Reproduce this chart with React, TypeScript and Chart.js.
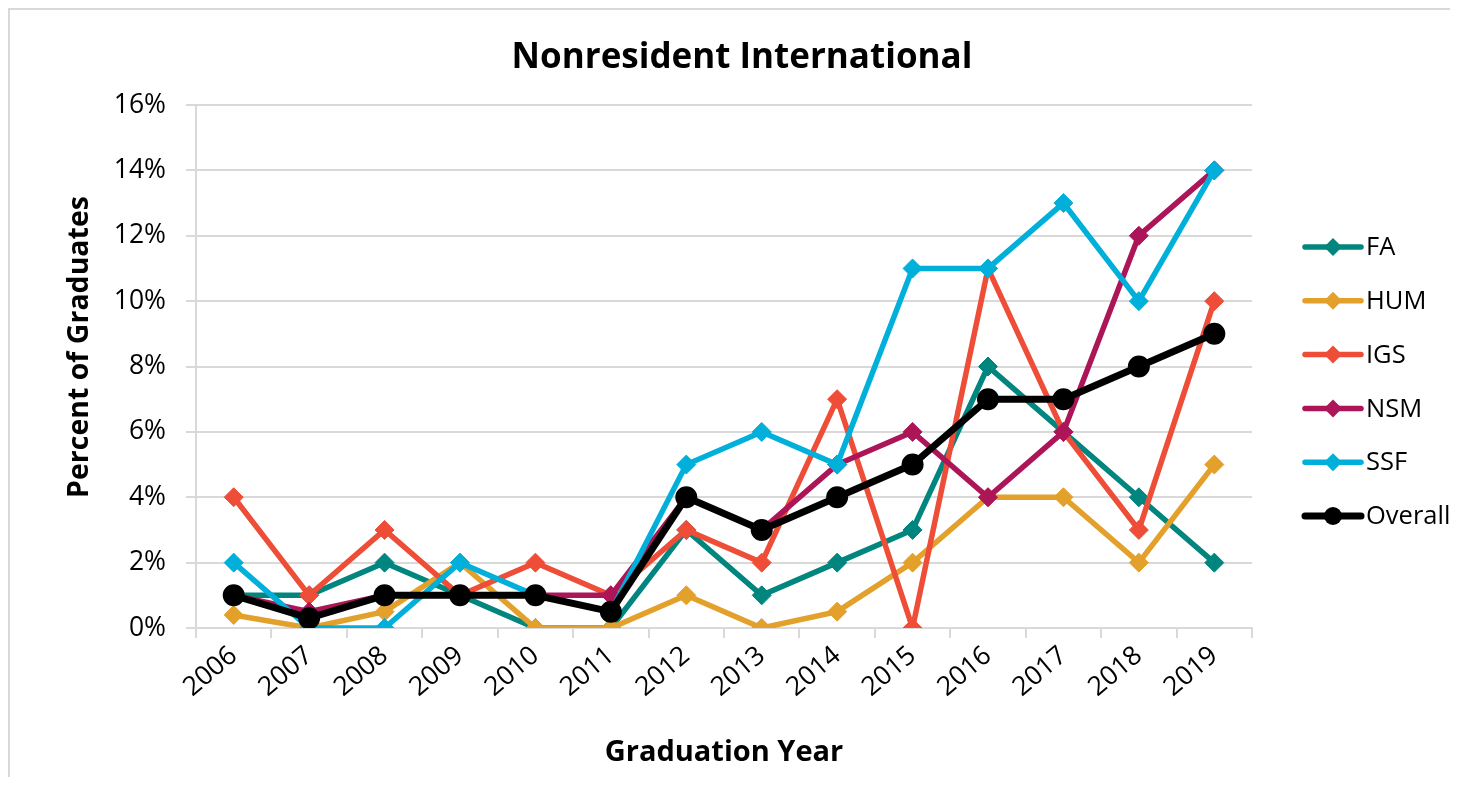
import React, { useEffect, useRef } from "react";
import { Chart, registerables } from "chart.js";

Chart.register(...registerables);

const years = ["2006", "2007", "2008", "2009", "2010", "2011", "2012", "2013", "2014", "2015", "2016", "2017", "2018", "2019"];
const faValues = [1, 1, 2, 1, 0, 0, 3, 1, 2, 3, 8, 6, 4, 2];
const humValues = [0.4, 0, 0.5, 2, 0, 0, 1, 0, 0.5, 2, 4, 4, 2, 5];
const igsValues = [4, 1, 3, 1, 2, 1, 3, 2, 7, 0, 11, 6, 3, 10];
const nsmValues = [1, 0.5, 1, 1, 1, 1, 4, 3, 5, 6, 4, 6, 12, 14];
const ssfValues = [2, 0, 0, 2, 1, 0.5, 5, 6, 5, 11, 11, 13, 10, 14];
const overallValues = [1, 0.3, 1, 1, 1, 0.5, 4, 3, 4, 5, 7, 7, 8, 9];
const seriesNames = ["FA", "HUM", "IGS", "NSM", "SSF", "Overall"];
const seriesColors = ["#00857F", "#E3A02A", "#EE4D38", "#AC1558", "#00B0DA", "#000000"];
const titleText = "Nonresident International";
const xTitle = "Graduation Year";
const yTitle = "Percent of Graduates";

const FONT = "'Open Sans', sans-serif";
const GRID = "#d9d9d9";

export default function App() {
  const ref = useRef<HTMLCanvasElement | null>(null);

  useEffect(() => {
    if (!ref.current) return;
    const allValues = [faValues, humValues, igsValues, nsmValues, ssfValues, overallValues];
    const datasets = allValues.map((vals, i) => {
      const isOverall = i === 5;
      return {
        label: seriesNames[i],
        data: vals,
        borderColor: seriesColors[i],
        backgroundColor: seriesColors[i],
        borderWidth: isOverall ? 7 : 5.5,
        pointStyle: isOverall ? "circle" : "rectRot",
        pointRadius: isOverall ? 10 : 9.5,
        pointBorderWidth: isOverall ? 2 : 1,
        pointBackgroundColor: seriesColors[i],
        pointBorderColor: seriesColors[i],
        tension: 0,
        order: 5 - i,
      };
    });

    const overlay = {
      id: "overlay",
      afterDraw(chart: any) {
        const ctx = chart.ctx;
        const ca = chart.chartArea;
        ctx.save();
        // Title
        ctx.fillStyle = "#000";
        ctx.font = `bold 35px ${FONT}`;
        ctx.textAlign = "center";
        ctx.textBaseline = "middle";
        ctx.fillText(titleText, 732, 48);
        // Y axis title
        ctx.save();
        ctx.translate(70, 337);
        ctx.rotate(-Math.PI / 2);
        ctx.font = `bold 28.5px ${FONT}`;
        ctx.textAlign = "center";
        ctx.textBaseline = "middle";
        ctx.fillText(yTitle, 0, 0);
        ctx.restore();
        // Legend
        const lx = ca.right + 53;
        const step = 53.8;
        const y0 = 237;
        chart.data.datasets.forEach((ds: any, i: number) => {
          const y = y0 + i * step;
          const isOverall = i === 5;
          ctx.strokeStyle = ds.borderColor;
          ctx.lineWidth = isOverall ? 7 : 5.5;
          ctx.lineCap = "round";
          ctx.beginPath();
          ctx.moveTo(lx, y);
          ctx.lineTo(lx + 56, y);
          ctx.stroke();
          ctx.fillStyle = ds.borderColor;
          ctx.beginPath();
          const cx = lx + 28;
          if (isOverall) {
            ctx.arc(cx, y, 9, 0, Math.PI * 2);
          } else {
            ctx.moveTo(cx, y - 9);
            ctx.lineTo(cx + 9, y);
            ctx.lineTo(cx, y + 9);
            ctx.lineTo(cx - 9, y);
            ctx.closePath();
          }
          ctx.fill();
          ctx.fillStyle = "#000";
          ctx.font = `25.5px ${FONT}`;
          ctx.textAlign = "left";
          ctx.textBaseline = "middle";
          ctx.fillText(ds.label, lx + 61, y + 1);
        });
        ctx.restore();
      },
    };

    const chart = new Chart(ref.current, {
      type: "line",
      data: { labels: years, datasets: datasets as any },
      plugins: [overlay],
      options: {
        animation: false,
        responsive: false,
        maintainAspectRatio: false,
        layout: { padding: { top: 95, right: 198, left: 0, bottom: 0 } },
        plugins: {
          legend: { display: false },
          title: { display: false },
          tooltip: { enabled: false },
        },
        scales: {
          x: {
            type: "category",
            offset: true,
            afterFit(scale: any) {
              scale.height = 149;
            },
            grid: {
              offset: true,
              drawOnChartArea: false,
              drawTicks: true,
              tickLength: 10,
              color: GRID,
              lineWidth: 2,
            },
            border: { display: true, color: GRID, width: 2 },
            ticks: {
              color: "#000",
              font: { family: FONT, size: 26.5 },
              minRotation: 40,
              maxRotation: 40,
              padding: 2,
              autoSkip: false,
            },
            title: {
              display: true,
              text: xTitle,
              color: "#000",
              font: { family: FONT, size: 29, weight: "bold" },
              padding: { top: 7, bottom: 7 },
            },
          },
          y: {
            min: 0,
            max: 16,
            afterFit(scale: any) {
              scale.width = 186;
            },
            ticks: {
              stepSize: 2,
              color: "#000",
              font: { family: FONT, size: 26.5 },
              padding: 20,
              callback: (v: any) => `${v}%`,
            },
            grid: {
              color: GRID,
              lineWidth: 2,
              drawTicks: true,
              tickLength: 10,
            },
            border: { display: true, color: GRID, width: 2 },
            title: { display: false },
          },
        },
      },
    });
    return () => chart.destroy();
  }, []);

  return (
    <div
      style={{
        width: 1440,
        height: 767,
        borderTop: "2px solid #d9d9d9",
        borderLeft: "2px solid #d9d9d9",
      }}
    >
      <canvas ref={ref} width={1440} height={767} style={{ display: "block" }} />
    </div>
  );
}
